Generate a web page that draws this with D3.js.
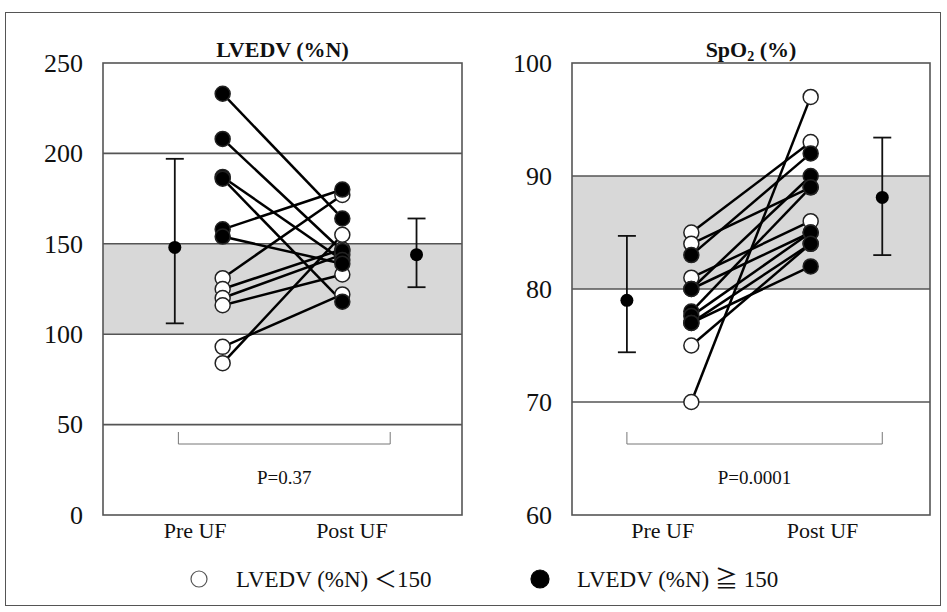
<!DOCTYPE html>
<html>
<head>
<meta charset="utf-8">
<script src="https://cdn.jsdelivr.net/npm/d3@7"></script>
<style>
  body { margin: 0; background: #fff; }
  text { font-family: "Liberation Serif", "Times New Roman", "Noto Sans CJK JP", serif; fill: #111; }
</style>
</head>
<body>
<div id="chart"></div>
<script>
// category labels
let categories = ["Pre UF", "Post UF"];

// LVEDV (%N) panel, one entry per patient
let lvPre  = [233, 208, 187, 186, 158, 154, 131, 125, 120, 116, 93, 84];
let lvPost = [164, 146, 141, 118, 180, 139, 177, 147, 144, 133, 122, 155];
let lvHigh = [1, 1, 1, 1, 1, 1, 0, 0, 0, 0, 0, 0];   // LVEDV >= 150 at pre
let lvMean  = [148, 144];
let lvUpper = [197, 164];
let lvLower = [106, 126];
let lvTicks = [0, 50, 100, 150, 200, 250];
let lvBand  = [100, 150];

// SpO2 (%) panel
let spPre  = [85, 84, 81, 75, 70, 80, 83, 80, 78, 77.6, 77, 77];
let spPost = [93, 89, 86, 84, 97, 85, 92, 90, 89, 85, 84, 82];
let spHigh = [0, 0, 0, 0, 0, 0, 1, 1, 1, 1, 1, 1];
let spMean  = [79, 88.1];
let spUpper = [84.7, 93.4];
let spLower = [74.4, 83];
let spTicks = [60, 70, 80, 90, 100];
let spBand  = [80, 90];

let pValues = ["P=0.37", "P=0.0001"];
let legendLabels = ["LVEDV (%N) \uFF1C150", "LVEDV (%N) \u2267 150"];

let svgWidth = 947;
let svgHeight = 612;
let plotTop = 63, plotBottom = 515;

let svg = d3.select("#chart")
  .append("svg")
  .attr("width", svgWidth)
  .attr("height", svgHeight)

// outer frame
svg.append("rect")
  .attr("x", 5.5).attr("y", 12.5)
  .attr("width", 935).attr("height", 593)
  .attr("fill", "none")
  .attr("stroke", "#555")
  .attr("stroke-width", 1)

let panels = [
  {left: 103, right: 462, pre: lvPre, post: lvPost, high: lvHigh, mean: lvMean, upper: lvUpper, lower: lvLower,
   ticks: lvTicks, band: lvBand, ebX: [0.6, 2.62], bracket: [0.63, 2.4], labelX: [0.77, 2.08], p: pValues[0], title: "lv"},
  {left: 572, right: 930, pre: spPre, post: spPost, high: spHigh, mean: spMean, upper: spUpper, lower: spLower,
   ticks: spTicks, band: spBand, ebX: [0.46, 2.6], bracket: [0.46, 2.6], labelX: [0.76, 2.1], p: pValues[1], title: "sp"}
];

panels.forEach(function(p) {
  let xScale = d3.scaleLinear().domain([0, 3]).range([p.left, p.right])
  let yScale = d3.scaleLinear().domain(d3.extent(p.ticks)).range([plotBottom, plotTop])
  let g = svg.append("g")

  // shaded normal range
  g.append("rect")
    .attr("x", p.left)
    .attr("y", yScale(p.band[1]))
    .attr("width", p.right - p.left)
    .attr("height", yScale(p.band[0]) - yScale(p.band[1]))
    .attr("fill", "#d8d8d8")

  // gridlines
  g.selectAll(".grid")
    .data(p.ticks.slice(1, -1))
    .enter()
    .append("line")
    .attr("x1", p.left).attr("x2", p.right)
    .attr("y1", d => yScale(d)).attr("y2", d => yScale(d))
    .attr("stroke", "#555")
    .attr("stroke-width", 1.6)

  // plot frame
  g.append("rect")
    .attr("x", p.left).attr("y", plotTop)
    .attr("width", p.right - p.left).attr("height", plotBottom - plotTop)
    .attr("fill", "none")
    .attr("stroke", "#555")
    .attr("stroke-width", 1.6)

  // y axis labels
  let yAxis = d3.axisLeft(yScale).tickValues(p.ticks).tickSize(0).tickPadding(20)
  let ya = g.append("g")
    .attr("transform", `translate(${p.left},0)`)
    .call(yAxis)
  ya.select(".domain").remove()
  ya.selectAll("text")
    .attr("font-size", 26)
    .attr("font-family", "Liberation Serif")
    .attr("fill", "#111")

  // category labels
  g.selectAll(".cat")
    .data(categories)
    .enter()
    .append("text")
    .attr("x", (d, i) => xScale(p.labelX[i]))
    .attr("y", 538)
    .attr("text-anchor", "middle")
    .attr("font-size", 22)
    .text(d => d)

  // p-value bracket
  let by = 444, bt = 432;
  g.append("path")
    .attr("d", `M${xScale(p.bracket[0])},${bt}V${by}H${xScale(p.bracket[1])}V${bt}`)
    .attr("fill", "none")
    .attr("stroke", "#777")
    .attr("stroke-width", 1)
  g.append("text")
    .attr("x", (xScale(p.bracket[0]) + xScale(p.bracket[1])) / 2)
    .attr("y", 484)
    .attr("text-anchor", "middle")
    .attr("font-size", 19)
    .text(p.p)

  // title
  let t = g.append("text")
    .attr("x", (p.left + p.right) / 2)
    .attr("y", 57)
    .attr("text-anchor", "middle")
    .attr("font-size", 22)
    .attr("font-weight", "bold")
  if (p.title == "lv") {
    t.text("LVEDV (%N)")
  } else {
    t.append("tspan").text("SpO")
    t.append("tspan").attr("font-size", 14).attr("dy", 4).text("2")
    t.append("tspan").attr("dy", -4).text(" (%)")
  }

  // patient lines
  let idx = d3.range(p.pre.length)
  g.selectAll(".pair")
    .data(idx)
    .enter()
    .append("line")
    .attr("x1", xScale(1)).attr("x2", xScale(2))
    .attr("y1", i => yScale(p.pre[i]))
    .attr("y2", i => yScale(p.post[i]))
    .attr("stroke", "#000")
    .attr("stroke-width", 2.5)

  // markers: open group first, filled on top
  let order = idx.slice().sort((a, b) => p.high[a] - p.high[b])
  ;[[1, p.pre], [2, p.post]].forEach(function(s) {
    g.selectAll(null)
      .data(order)
      .enter()
      .append("circle")
      .attr("cx", xScale(s[0]))
      .attr("cy", i => yScale(s[1][i]))
      .attr("r", 7.5)
      .attr("fill", i => p.high[i] ? "#000" : "#fff")
      .attr("stroke", "#222")
      .attr("stroke-width", 1.5)
  })

  // mean +/- SD
  p.mean.forEach(function(m, i) {
    let x = xScale(p.ebX[i])
    g.append("line")
      .attr("x1", x).attr("x2", x)
      .attr("y1", yScale(p.upper[i])).attr("y2", yScale(p.lower[i]))
      .attr("stroke", "#111").attr("stroke-width", 1.8)
    ;[p.upper[i], p.lower[i]].forEach(function(v) {
      g.append("line")
        .attr("x1", x - 9).attr("x2", x + 9)
        .attr("y1", yScale(v)).attr("y2", yScale(v))
        .attr("stroke", "#111").attr("stroke-width", 1.8)
    })
    g.append("circle")
      .attr("cx", x).attr("cy", yScale(m))
      .attr("r", 6.5)
      .attr("fill", "#000")
  })
})

// legend
let legX = [199, 540];
let leg = svg.selectAll(".leg")
  .data(legendLabels)
  .enter()
  .append("g")
leg.append("circle")
  .attr("cx", (d, i) => legX[i])
  .attr("cy", 579)
  .attr("r", (d, i) => i ? 9 : 8)
  .attr("fill", (d, i) => i ? "#000" : "#fff")
  .attr("stroke", (d, i) => i ? "#000" : "#555")
  .attr("stroke-width", 1.2)
leg.append("text")
  .attr("x", (d, i) => legX[i] + 37)
  .attr("y", 587)
  .attr("font-size", 23)
  .text(d => d)
</script>
</body>
</html>
